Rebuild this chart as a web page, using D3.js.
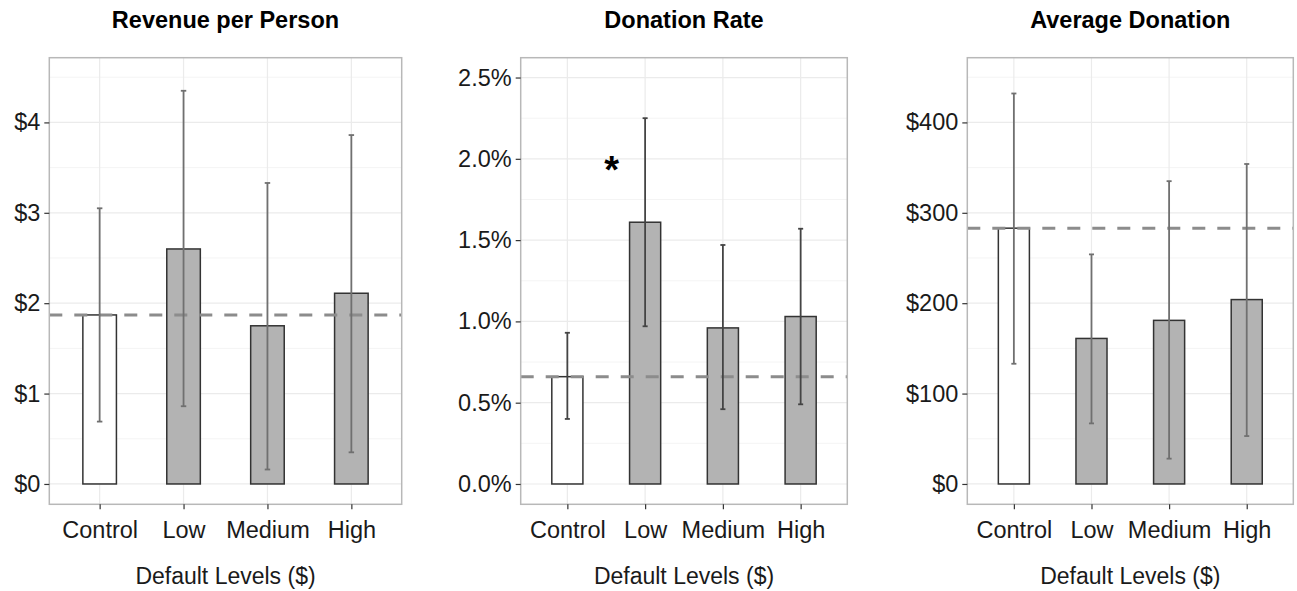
<!DOCTYPE html>
<html lang="en">
<head>
<meta charset="UTF-8">
<title>Default Levels</title>
<script src="https://cdn.jsdelivr.net/npm/d3@7"></script>
<style>
    body { margin: 0; background: #fff; }
    text { font-family: "Liberation Sans", Arial, Helvetica, sans-serif; }
    .axis text { font-size: 23.5px; fill: #1a1a1a; }
    .axis line { stroke: #333; stroke-width: 1.2; }
    .axis path { display: none; }
</style>
</head>
<body>
<script>
    // data
    var categories = ["Control", "Low", "Medium", "High"]

    var revenueMean = [1.87, 2.60, 1.75, 2.11]
    var revenueLow = [0.69, 0.86, 0.16, 0.35]
    var revenueHigh = [3.05, 4.35, 3.33, 3.86]

    var rateMean = [0.66, 1.61, 0.96, 1.03]   // percent
    var rateLow = [0.40, 0.97, 0.46, 0.49]
    var rateHigh = [0.93, 2.25, 1.47, 1.57]

    var avgMean = [283, 161, 181, 204]
    var avgLow = [133, 67, 28, 53]
    var avgHigh = [432, 254, 335, 354]

    var revenueTicks = [0, 1, 2, 3, 4]
    var rateTicks = [0, 0.5, 1.0, 1.5, 2.0, 2.5]
    var avgTicks = [0, 100, 200, 300, 400]

    var titles = ["Revenue per Person", "Donation Rate", "Average Donation"]
    var xTitle = "Default Levels ($)"

    var width = 1297, height = 591

    var svg = d3.select("body").append("svg")
        .attr("width", width)
        .attr("height", height)

    var panels = [
        { title: titles[0], mean: revenueMean, lo: revenueLow, hi: revenueHigh,
          ticks: revenueTicks, domain: [-0.225, 4.716], step: 1,
          fmt: function(d) { return "$" + d },
          left: 49.3, right: 401.7, errColor: "#707070" },
        { title: titles[1], mean: rateMean, lo: rateLow, hi: rateHigh,
          ticks: rateTicks, domain: [-0.125, 2.622], step: 0.5,
          fmt: function(d) { return d.toFixed(1) + "%" },
          left: 520.7, right: 847.3, errColor: "#444",
          star: { x: 0.57, y: 1.96 } },
        { title: titles[2], mean: avgMean, lo: avgLow, hi: avgHigh,
          ticks: avgTicks, domain: [-22.5, 471.6], step: 100,
          fmt: function(d) { return "$" + d },
          left: 967.3, right: 1293.3, errColor: "#707070" }
    ]

    var plotTop = 57.7, plotBottom = 504.3

    panels.forEach(function(p) {
        var g = svg.append("g")

        var x = d3.scalePoint()
            .domain(categories)
            .range([p.left, p.right])
            .padding(0.6)
        var stepPx = x.step()

        var y = d3.scaleLinear()
            .domain(p.domain)
            .range([plotBottom, plotTop])

        // minor grid
        var minor = p.ticks.map(function(d) { return d + p.step / 2 })
            .filter(function(d) { return d < p.domain[1] })
        g.selectAll(".minor").data(minor).enter().append("line")
            .attr("x1", p.left).attr("x2", p.right)
            .attr("y1", function(d) { return y(d) })
            .attr("y2", function(d) { return y(d) })
            .attr("stroke", "#f4f4f4").attr("stroke-width", 1)

        // major grid
        g.selectAll(".major").data(p.ticks).enter().append("line")
            .attr("x1", p.left).attr("x2", p.right)
            .attr("y1", function(d) { return y(d) })
            .attr("y2", function(d) { return y(d) })
            .attr("stroke", "#ebebeb").attr("stroke-width", 1.2)

        g.selectAll(".vgrid").data(categories).enter().append("line")
            .attr("x1", function(d) { return x(d) })
            .attr("x2", function(d) { return x(d) })
            .attr("y1", plotTop).attr("y2", plotBottom)
            .attr("stroke", "#ebebeb").attr("stroke-width", 1.2)

        var rows = categories.map(function(c, i) {
            return { cat: c, mean: p.mean[i], lo: p.lo[i], hi: p.hi[i], i: i }
        })

        // bars
        var bw = stepPx * 0.4
        g.selectAll(".bar").data(rows).enter().append("rect")
            .attr("x", function(d) { return x(d.cat) - bw / 2 })
            .attr("width", bw)
            .attr("y", function(d) { return y(d.mean) })
            .attr("height", function(d) { return y(0) - y(d.mean) })
            .attr("fill", function(d) { return d.i === 0 ? "#ffffff" : "#b3b3b3" })
            .attr("stroke", "#333")
            .attr("stroke-width", 1.5)

        // reference line at control mean
        g.append("line")
            .attr("x1", p.left).attr("x2", p.right)
            .attr("y1", y(p.mean[0])).attr("y2", y(p.mean[0]))
            .attr("stroke", "#8c8c8c")
            .attr("stroke-width", 3)
            .attr("stroke-dasharray", "13,12")

        // error bars
        var cw = stepPx * 0.065
        var eb = g.selectAll(".err").data(rows).enter().append("g")
            .attr("stroke", p.errColor).attr("stroke-width", 1.8)
        eb.append("line")
            .attr("x1", function(d) { return x(d.cat) })
            .attr("x2", function(d) { return x(d.cat) })
            .attr("y1", function(d) { return y(d.lo) })
            .attr("y2", function(d) { return y(d.hi) })
        eb.append("line")
            .attr("x1", function(d) { return x(d.cat) - cw / 2 })
            .attr("x2", function(d) { return x(d.cat) + cw / 2 })
            .attr("y1", function(d) { return y(d.hi) })
            .attr("y2", function(d) { return y(d.hi) })
        eb.append("line")
            .attr("x1", function(d) { return x(d.cat) - cw / 2 })
            .attr("x2", function(d) { return x(d.cat) + cw / 2 })
            .attr("y1", function(d) { return y(d.lo) })
            .attr("y2", function(d) { return y(d.lo) })

        // panel border
        g.append("rect")
            .attr("x", p.left).attr("y", plotTop)
            .attr("width", p.right - p.left).attr("height", plotBottom - plotTop)
            .attr("fill", "none")
            .attr("stroke", "#b8b8b8")
            .attr("stroke-width", 1.5)

        // axes
        g.append("g")
            .attr("class", "axis")
            .attr("transform", "translate(" + p.left + ",0)")
            .call(d3.axisLeft(y).tickValues(p.ticks).tickFormat(p.fmt)
                .tickSize(5).tickPadding(4))

        g.append("g")
            .attr("class", "axis")
            .attr("transform", "translate(0," + plotBottom + ")")
            .call(d3.axisBottom(x).tickSize(5).tickPadding(6))
            .selectAll("text").attr("dy", "0.95em")

        // titles
        g.append("text")
            .attr("x", (p.left + p.right) / 2)
            .attr("y", 28)
            .attr("text-anchor", "middle")
            .attr("font-weight", "bold")
            .attr("font-size", "23.5px")
            .attr("fill", "#000")
            .text(p.title)

        g.append("text")
            .attr("x", (p.left + p.right) / 2)
            .attr("y", 584)
            .attr("text-anchor", "middle")
            .attr("font-size", "23px")
            .attr("fill", "#1a1a1a")
            .text(xTitle)

        if (p.star) {
            g.append("text")
                .attr("x", x(categories[0]) + stepPx * p.star.x)
                .attr("y", y(p.star.y))
                .attr("dy", "0.47em")
                .attr("text-anchor", "middle")
                .attr("font-size", "38px")
                .attr("font-weight", "bold")
                .attr("fill", "#000")
                .text("*")
        }
    })
</script>
</body>
</html>
